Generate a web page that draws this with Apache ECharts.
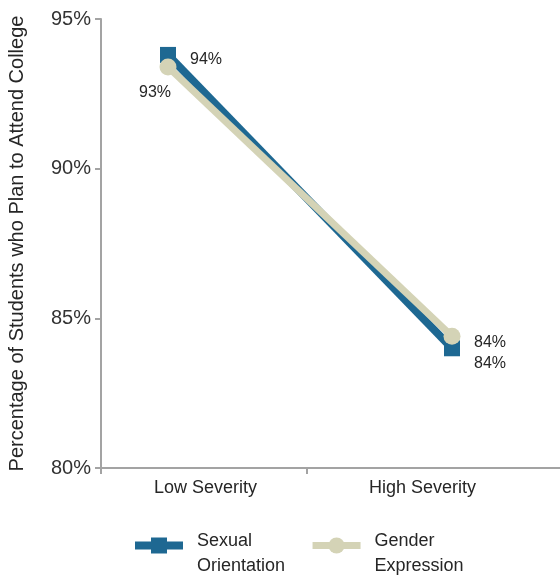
<!DOCTYPE html>
<html><head><meta charset="utf-8">
<script src="https://cdn.jsdelivr.net/npm/echarts@6/dist/echarts.min.js"></script>
<style>html,body{margin:0;padding:0;background:#fff}#c{width:560px;height:578px}</style>
</head><body><div id="c"></div>
<script>
const categories = ['Low Severity', 'High Severity'];
const sexualOrientation = [93.8, 84.0];
const genderExpression = [93.4, 84.4];
const yTicks = [80, 85, 90, 95];
const seriesNames = ['Sexual\nOrientation', 'Gender\nExpression'];

const blue = '#1e6892';
const beige = '#d4d3b6';
const axisGray = '#a3a3a3';
const txt = '#262626';
const font = '"Liberation Sans", Arial, sans-serif';

const soOffsets = [[38, 5], [38, 15]];
const geOffsets = [[-13, 26], [38, 6]];

function mkData(vals, offs) {
  return vals.map((v, i) => ({ value: v, label: { offset: offs[i] } }));
}

const chart = echarts.init(document.getElementById('c'), null, { renderer: 'canvas' });
const gridTop = 19, gridBottom = 110;
const yMin = yTicks[0], yMax = yTicks[yTicks.length - 1];
const g = (l, r) => ({ left: l, right: r, top: gridTop, bottom: gridBottom, outerBoundsMode: 'none', containLabel: false });
chart.setOption({
  animation: false,
  backgroundColor: '#fff',
  grid: [
    g(101, 0),   // axis lines
    g(97, 29),   // category labels
    g(168, 108), // data
    g(101, 253)  // category boundary ticks
  ],
  xAxis: [
    { gridIndex: 0, type: 'category', data: categories, axisLine: { lineStyle: { color: axisGray, width: 2 } }, axisTick: { show: false }, axisLabel: { show: false } },
    { gridIndex: 1, type: 'category', data: categories, axisLine: { show: false }, axisTick: { show: false },
      axisLabel: { margin: 11, fontSize: 18, color: txt, fontFamily: font } },
    { gridIndex: 2, type: 'category', data: categories, boundaryGap: false, show: false },
    { gridIndex: 3, type: 'category', data: categories, boundaryGap: false, axisLine: { show: false },
      axisLabel: { show: false },
      axisTick: { show: true, length: 6, lineStyle: { color: axisGray, width: 2 } } }
  ],
  yAxis: [
    { gridIndex: 0, type: 'value', min: yMin, max: yMax, interval: 5,
      name: 'Percentage of Students who Plan to Attend College', nameLocation: 'middle', nameGap: 74,
      nameTextStyle: { fontSize: 20, color: txt, fontFamily: font },
      axisLine: { show: true, lineStyle: { color: axisGray, width: 2 } },
      axisTick: { show: true, length: 6, lineStyle: { color: axisGray, width: 2 } },
      splitLine: { show: false },
      axisLabel: { margin: 10, fontSize: 20, color: '#333', fontFamily: font, formatter: v => v + '%' } },
    { gridIndex: 1, type: 'value', min: yMin, max: yMax, show: false },
    { gridIndex: 2, type: 'value', min: yMin, max: yMax, show: false },
    { gridIndex: 3, type: 'value', min: yMin, max: yMax, show: false }
  ],
  legend: {
    top: 507, left: 126, itemWidth: 48, itemHeight: 20, itemGap: 24,
    formatter: name => '{s| }\n' + name,
    textStyle: { fontSize: 18, color: txt, fontFamily: font, lineHeight: 25, padding: [0, 0, 0, 9],
      rich: { s: { fontSize: 2, lineHeight: 17 } } },
    data: [
      { name: seriesNames[0], lineStyle: { width: 8 } },
      { name: seriesNames[1], lineStyle: { width: 7 } }
    ]
  },
  series: [
    { name: seriesNames[0], type: 'line', xAxisIndex: 2, yAxisIndex: 2,
      data: mkData(sexualOrientation, soOffsets),
      symbol: 'rect', symbolSize: 16, showAllSymbol: true,
      lineStyle: { color: blue, width: 8 }, itemStyle: { color: blue },
      label: { show: true, position: 'inside', fontSize: 16, color: txt, fontFamily: font, formatter: p => Math.round(p.value) + '%' },
      z: 2 },
    { name: seriesNames[1], type: 'line', xAxisIndex: 2, yAxisIndex: 2,
      data: mkData(genderExpression, geOffsets),
      symbol: 'circle', symbolSize: 17, showAllSymbol: true,
      lineStyle: { color: beige, width: 7 }, itemStyle: { color: beige },
      label: { show: true, position: 'inside', fontSize: 16, color: txt, fontFamily: font, formatter: p => Math.round(p.value) + '%' },
      z: 3 }
  ]
});
</script></body></html>
